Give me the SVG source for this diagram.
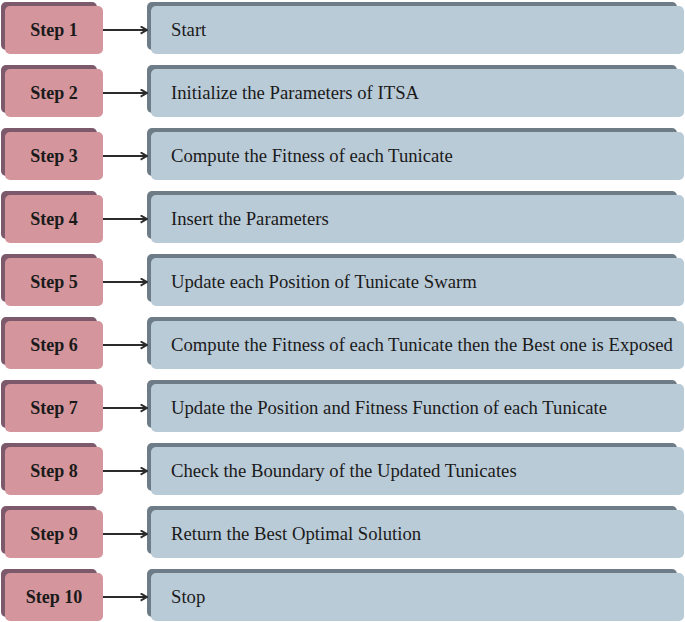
<svg xmlns="http://www.w3.org/2000/svg" width="685" height="622" viewBox="0 0 685 622">
<defs>
<style>
.ps{fill:#7d5a6b}
.pf{fill:#d4959c}
.bs{fill:#6d7c86}
.bf{fill:#bacbd8}
.lbl{font-family:"Liberation Serif","Times New Roman",serif;font-size:18px;font-weight:bold;fill:#1a1a1a;text-anchor:middle}
.txt{font-family:"Liberation Serif","Times New Roman",serif;font-size:18.7px;fill:#1a1a1a}
.arr{stroke:#2b2b2b;stroke-width:2;fill:none}
</style>
<marker id="ah" viewBox="0 0 10 10" refX="9" refY="5" markerWidth="8" markerHeight="9" markerUnits="userSpaceOnUse" orient="auto" preserveAspectRatio="none">
<path d="M1,1 L9,5 L1,9" fill="none" stroke="#2b2b2b" stroke-width="2.2"/>
</marker>
<g id="row">
<rect class="ps" x="1" y="2" width="96" height="48" rx="5"/>
<rect class="pf" x="5" y="6" width="98" height="48" rx="5"/>
<rect class="bs" x="147" y="2" width="530" height="48" rx="5"/>
<rect class="bf" x="151" y="6" width="533" height="48" rx="5"/>
</g>
</defs>
<g id="step1"><use href="#row"/><text class="lbl" x="54" y="36">Step 1</text><text class="txt" x="171" y="36">Start</text></g>
<g id="step2" transform="translate(0,63)"><use href="#row"/><text class="lbl" x="54" y="36">Step 2</text><text class="txt" x="171" y="36">Initialize the Parameters of ITSA</text></g>
<g id="step3" transform="translate(0,126)"><use href="#row"/><text class="lbl" x="54" y="36">Step 3</text><text class="txt" x="171" y="36">Compute the Fitness of each Tunicate</text></g>
<g id="step4" transform="translate(0,189)"><use href="#row"/><text class="lbl" x="54" y="36">Step 4</text><text class="txt" x="171" y="36">Insert the Parameters</text></g>
<g id="step5" transform="translate(0,252)"><use href="#row"/><text class="lbl" x="54" y="36">Step 5</text><text class="txt" x="171" y="36">Update each Position of Tunicate Swarm</text></g>
<g id="step6" transform="translate(0,315)"><use href="#row"/><text class="lbl" x="54" y="36">Step 6</text><text class="txt" x="171" y="36">Compute the Fitness of each Tunicate then the Best one is Exposed</text></g>
<g id="step7" transform="translate(0,378)"><use href="#row"/><text class="lbl" x="54" y="36">Step 7</text><text class="txt" x="171" y="36">Update the Position and Fitness Function of each Tunicate</text></g>
<g id="step8" transform="translate(0,441)"><use href="#row"/><text class="lbl" x="54" y="36">Step 8</text><text class="txt" x="171" y="36">Check the Boundary of the Updated Tunicates</text></g>
<g id="step9" transform="translate(0,504)"><use href="#row"/><text class="lbl" x="54" y="36">Step 9</text><text class="txt" x="171" y="36">Return the Best Optimal Solution</text></g>
<g id="step10" transform="translate(0,567)"><use href="#row"/><text class="lbl" x="54" y="36">Step 10</text><text class="txt" x="171" y="36">Stop</text></g>
<g id="connectors">
<line class="arr" x1="103" y1="30" x2="147" y2="30" marker-end="url(#ah)"/>
<line class="arr" x1="103" y1="93" x2="147" y2="93" marker-end="url(#ah)"/>
<line class="arr" x1="103" y1="156" x2="147" y2="156" marker-end="url(#ah)"/>
<line class="arr" x1="103" y1="219" x2="147" y2="219" marker-end="url(#ah)"/>
<line class="arr" x1="103" y1="282" x2="147" y2="282" marker-end="url(#ah)"/>
<line class="arr" x1="103" y1="345" x2="147" y2="345" marker-end="url(#ah)"/>
<line class="arr" x1="103" y1="408" x2="147" y2="408" marker-end="url(#ah)"/>
<line class="arr" x1="103" y1="471" x2="147" y2="471" marker-end="url(#ah)"/>
<line class="arr" x1="103" y1="534" x2="147" y2="534" marker-end="url(#ah)"/>
<line class="arr" x1="103" y1="597" x2="147" y2="597" marker-end="url(#ah)"/>
</g>
</svg>
